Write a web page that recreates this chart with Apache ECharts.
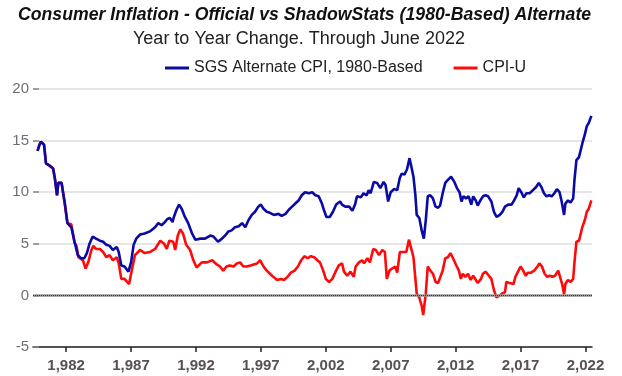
<!DOCTYPE html>
<html>
<head>
<meta charset="utf-8">
<script src="https://cdn.jsdelivr.net/npm/echarts@6/dist/echarts.min.js"></script>
<style>
  html, body { margin: 0; padding: 0; background: #fff; }
  #chart { width: 622px; height: 376px; }
</style>
</head>
<body>
<div id="chart"></div>
<script>
  // SGS Alternate CPI, 1980-Based (year fraction, % yoy)
  const sgsYears = [1979.8, 1979.95, 1980.05, 1980.3, 1980.45, 1980.7, 1981.0, 1981.15, 1981.3, 1981.4, 1981.65, 1981.9,
    1982.1, 1982.4, 1982.65, 1982.9, 1983.15, 1983.4, 1983.6, 1983.8, 1984.05, 1984.3, 1984.6, 1984.85,
    1985.1, 1985.35, 1985.6, 1985.9, 1986.05, 1986.25, 1986.5, 1986.8, 1987.0, 1987.2, 1987.4, 1987.7,
    1988.05, 1988.45, 1988.85, 1989.1, 1989.35, 1989.6, 1989.8, 1990.0, 1990.2, 1990.3, 1990.5, 1990.7,
    1990.9, 1991.15, 1991.4, 1991.7, 1991.95, 1992.35, 1992.7, 1993.1, 1993.35, 1993.7, 1994.0, 1994.25,
    1994.5, 1994.75, 1995.0, 1995.3, 1995.55, 1995.8, 1996.05, 1996.3, 1996.55, 1996.8, 1997.0, 1997.2,
    1997.45, 1997.7, 1998.0, 1998.35, 1998.6, 1998.9, 1999.15, 1999.4, 1999.65, 1999.9, 2000.15, 2000.4,
    2000.7, 2000.95, 2001.2, 2001.45, 2001.7, 2001.9, 2002.05, 2002.3, 2002.55, 2002.8, 2003.1, 2003.25,
    2003.5, 2003.8, 2004.05, 2004.25, 2004.4, 2004.7, 2004.9, 2005.15, 2005.3, 2005.45, 2005.7, 2005.95,
    2006.2, 2006.45, 2006.6, 2006.8, 2007.0, 2007.25, 2007.5, 2007.7, 2007.85, 2008.05, 2008.25, 2008.45,
    2008.6, 2008.75, 2008.9, 2009.0, 2009.2, 2009.4, 2009.55, 2009.7, 2009.85, 2010.05, 2010.25, 2010.45,
    2010.65, 2010.8, 2011.0, 2011.2, 2011.4, 2011.65, 2011.9, 2012.1, 2012.3, 2012.45, 2012.6, 2012.8,
    2013.0, 2013.2, 2013.35, 2013.55, 2013.7, 2013.9, 2014.1, 2014.3, 2014.5, 2014.75, 2014.95, 2015.15,
    2015.4, 2015.6, 2015.8, 2016.05, 2016.3, 2016.5, 2016.7, 2016.85, 2017.05, 2017.25, 2017.45, 2017.7,
    2017.95, 2018.2, 2018.4, 2018.6, 2018.8, 2019.0, 2019.2, 2019.4, 2019.6, 2019.8, 2020.0, 2020.15,
    2020.35, 2020.45, 2020.65, 2020.85, 2021.05, 2021.15, 2021.3, 2021.5, 2021.6, 2021.75, 2021.95, 2022.1,
    2022.25, 2022.45];
  const sgsValues = [14.0, 14.6, 14.9, 14.6, 12.8, 12.6, 12.3, 11.2, 9.7, 10.9, 10.9, 8.9,
    7.0, 6.6, 5.2, 3.9, 3.6, 3.6, 4.1, 5.0, 5.7, 5.5, 5.3, 5.2,
    4.9, 4.8, 4.4, 4.7, 4.2, 2.9, 2.8, 2.3, 3.2, 4.9, 5.5, 5.9,
    6.0, 6.2, 6.6, 7.0, 6.8, 7.1, 7.4, 7.5, 7.1, 7.6, 8.3, 8.8,
    8.4, 7.6, 7.0, 6.0, 5.4, 5.5, 5.5, 5.8, 5.7, 5.2, 5.5, 5.8,
    6.2, 6.3, 6.6, 6.7, 7.0, 6.6, 7.3, 7.8, 8.1, 8.6, 8.8, 8.4,
    8.1, 8.0, 7.8, 7.9, 7.7, 7.9, 8.3, 8.6, 8.9, 9.2, 9.7, 10.0,
    9.9, 10.0, 9.7, 9.6, 8.9, 8.1, 7.6, 7.6, 8.1, 8.8, 9.1, 8.8,
    8.6, 8.6, 8.2, 8.8, 9.6, 9.5, 9.9, 9.7, 10.2, 9.9, 11.0, 10.9,
    10.4, 11.0, 10.7, 9.1, 10.0, 10.3, 10.2, 11.4, 11.8, 11.7, 12.2, 13.3,
    13.2, 11.5, 9.7, 7.8, 7.5, 6.2, 5.5, 7.3, 9.6, 9.7, 9.4, 8.6,
    8.5, 8.7, 9.9, 10.9, 11.2, 11.5, 11.0, 10.4, 10.0, 9.1, 9.6, 9.4,
    9.6, 8.8, 9.6, 9.2, 8.7, 9.2, 9.6, 9.7, 9.6, 9.1, 8.1, 7.6,
    7.8, 8.1, 8.6, 8.8, 8.8, 9.2, 9.7, 10.4, 10.0, 9.5, 9.9, 9.9,
    10.2, 10.5, 10.9, 10.5, 9.9, 9.6, 9.7, 9.6, 9.9, 10.3, 10.0, 9.2,
    7.8, 8.9, 9.2, 9.0, 9.4, 11.2, 13.1, 13.4, 13.3, 14.7, 15.6, 16.4,
    16.7, 17.4];

  // CPI-U
  const cpiYears = [1979.8, 1979.95, 1980.05, 1980.3, 1980.45, 1980.7, 1981.0, 1981.15, 1981.3, 1981.4, 1981.65, 1981.9,
    1982.1, 1982.4, 1982.65, 1982.8, 1982.95, 1983.3, 1983.5, 1983.7, 1983.95, 1984.1, 1984.3, 1984.6,
    1984.85, 1985.1, 1985.35, 1985.6, 1985.9, 1986.05, 1986.25, 1986.5, 1986.85, 1987.05, 1987.3, 1987.7,
    1988.05, 1988.45, 1988.85, 1989.25, 1989.55, 1989.75, 1989.95, 1990.25, 1990.4, 1990.6, 1990.8, 1991.0,
    1991.25, 1991.55, 1991.8, 1992.05, 1992.45, 1992.85, 1993.25, 1993.6, 1993.85, 1994.1, 1994.35, 1994.6,
    1994.9, 1995.15, 1995.4, 1995.65, 1995.9, 1996.2, 1996.45, 1996.7, 1996.95, 1997.2, 1997.45, 1997.7,
    1997.95, 1998.25, 1998.55, 1998.8, 1999.05, 1999.3, 1999.6, 1999.85, 2000.1, 2000.35, 2000.6, 2000.85,
    2001.1, 2001.35, 2001.55, 2001.8, 2002.0, 2002.25, 2002.5, 2002.75, 2003.0, 2003.25, 2003.4, 2003.65,
    2003.9, 2004.15, 2004.3, 2004.55, 2004.8, 2004.95, 2005.2, 2005.4, 2005.65, 2005.85, 2006.1, 2006.35,
    2006.55, 2006.7, 2006.9, 2007.1, 2007.35, 2007.5, 2007.7, 2007.95, 2008.2, 2008.4, 2008.55, 2008.75,
    2008.9, 2009.0, 2009.2, 2009.4, 2009.5, 2009.7, 2009.85, 2010.05, 2010.25, 2010.45, 2010.65, 2010.8,
    2011.0, 2011.2, 2011.4, 2011.6, 2011.8, 2012.05, 2012.25, 2012.4, 2012.55, 2012.75, 2012.95, 2013.15,
    2013.35, 2013.5, 2013.7, 2013.95, 2014.1, 2014.3, 2014.5, 2014.75, 2014.95, 2015.15, 2015.4, 2015.6,
    2015.8, 2015.9, 2016.15, 2016.45, 2016.6, 2016.8, 2017.0, 2017.2, 2017.4, 2017.55, 2017.8, 2018.05,
    2018.3, 2018.45, 2018.65, 2018.85, 2019.05, 2019.25, 2019.45, 2019.65, 2019.9, 2020.05, 2020.2, 2020.35,
    2020.45, 2020.65, 2020.85, 2021.05, 2021.15, 2021.3, 2021.5, 2021.6, 2021.75, 2021.95, 2022.1, 2022.25,
    2022.45];
  const cpiValues = [14.0, 14.6, 14.9, 14.6, 12.8, 12.6, 12.3, 11.2, 9.7, 10.9, 10.9, 8.9,
    7.0, 6.9, 5.1, 4.8, 3.7, 3.4, 2.6, 3.2, 4.4, 4.8, 4.5, 4.5,
    4.2, 3.7, 3.9, 3.4, 3.7, 3.1, 1.6, 1.6, 1.1, 2.4, 3.9, 4.4,
    4.1, 4.2, 4.5, 5.3, 5.0, 4.5, 5.3, 5.2, 4.4, 5.8, 6.4, 6.0,
    4.9, 4.4, 3.4, 2.7, 3.2, 3.2, 3.4, 3.0, 2.8, 2.4, 2.8, 2.9,
    2.8, 3.1, 3.2, 2.8, 2.8, 2.9, 3.0, 3.1, 3.4, 2.8, 2.4, 2.1,
    1.8, 1.5, 1.6, 1.5, 1.8, 2.2, 2.4, 2.8, 3.4, 3.8, 3.6, 3.8,
    3.7, 3.4, 3.2, 2.4, 1.6, 1.3, 1.6, 2.3, 2.9, 3.1, 2.3, 1.9,
    2.3, 1.8, 2.8, 3.2, 3.4, 3.1, 3.6, 3.2, 4.5, 4.4, 3.9, 4.4,
    4.2, 1.6, 2.4, 2.6, 2.8, 2.2, 4.2, 4.2, 4.2, 5.4, 5.3, 3.7,
    1.6, 0.2, -0.2, -1.1, -1.9, 0.2, 2.8, 2.4, 2.1, 1.3, 1.2, 1.3,
    2.4, 3.6, 3.7, 4.1, 3.6, 2.9, 2.4, 1.6, 2.1, 1.8, 2.1, 1.5,
    1.9, 1.8, 1.2, 1.6, 2.1, 2.3, 2.0, 1.6, 0.5, -0.2, 0.0, 0.2,
    0.3, 1.3, 1.2, 1.1, 1.8, 2.3, 2.8, 2.4, 1.9, 2.2, 2.2, 2.4,
    2.8, 3.1, 2.8, 2.1, 1.8, 1.9, 1.8, 1.9, 2.4, 2.3, 1.1, 0.1,
    1.1, 1.5, 1.3, 1.6, 3.2, 5.2, 5.3, 5.3, 6.6, 7.3, 8.1, 8.4,
    9.2];

  const xTickYears = [1982, 1987, 1992, 1997, 2002, 2007, 2012, 2017, 2022];

  const sgsData = sgsYears.map((t, i) => [t, sgsValues[i]]);
  const cpiData = cpiYears.map((t, i) => [t, cpiValues[i]]);

  const chart = echarts.init(document.getElementById('chart'), null, {renderer: 'canvas'});
  chart.setOption({
    animation: false,
    backgroundColor: '#fff',
    title: {
      text: 'Year to Year Change. Through June 2022',
      left: 128,
      top: 25,
      textStyle: {
        fontFamily: '"Liberation Sans", Arial, sans-serif',
        fontWeight: 'normal',
        fontSize: 18,
        color: '#222'
      }
    },
    // condensed bold italic headline (no narrow font installed, so squeeze it)
    graphic: [
      {
        type: 'text',
        x: 18,
        y: 5,
        scaleX: 0.93,
        style: {
          text: 'Consumer Inflation - Official vs ShadowStats (1980-Based) Alternate',
          font: 'italic bold 19px "Liberation Sans", Arial, sans-serif',
          fill: '#111'
        }
      }
    ],
    legend: {
      left: 160,
      top: 55,
      icon: 'rect',
      itemWidth: 24,
      itemHeight: 3,
      itemGap: 31,
      textStyle: {
        fontFamily: '"Liberation Sans", Arial, sans-serif',
        fontSize: 16,
        color: '#222'
      },
      data: ['SGS Alternate CPI, 1980-Based', 'CPI-U']
    },
    grid: {
      left: 33,
      right: 30,
      top: 89,
      bottom: 29,
      containLabel: false
    },
    xAxis: {
      type: 'value',
      min: 1979.45,
      max: 2022.5,
      axisLine: {show: true, onZero: false, lineStyle: {color: '#222', width: 1.5}},
      axisTick: {show: true, length: 5, customValues: xTickYears, lineStyle: {color: '#222', width: 1.5}},
      axisLabel: {
        customValues: xTickYears,
        margin: 11,
        fontFamily: '"Liberation Sans", Arial, sans-serif',
        fontWeight: 'bold',
        fontSize: 15,
        color: '#5a4f55'
      },
      splitLine: {show: false}
    },
    yAxis: {
      type: 'value',
      min: -5,
      max: 20,
      interval: 5,
      axisLine: {show: false},
      axisTick: {show: true, inside: true, length: 6, lineStyle: {color: '#888', width: 1.5}},
      axisLabel: {
        margin: 4,
        fontFamily: '"Liberation Sans", Arial, sans-serif',
        fontSize: 15,
        color: '#6e6e78'
      },
      splitLine: {show: true, lineStyle: {color: '#dedede', width: 1.5}}
    },
    series: [
      {
        name: 'SGS Alternate CPI, 1980-Based',
        type: 'line',
        data: sgsData,
        showSymbol: false,
        z: 4,
        itemStyle: {color: '#0a0aa5'},
        lineStyle: {color: '#0a0aa5', width: 2.6}
      },
      {
        name: 'CPI-U',
        type: 'line',
        data: cpiData,
        showSymbol: false,
        z: 3,
        itemStyle: {color: '#ff0a0a'},
        lineStyle: {color: '#ff0a0a', width: 2.6},
        markLine: {
          silent: true,
          symbol: 'none',
          label: {show: false},
          data: [
            {yAxis: 0, lineStyle: {color: '#9a9a9a', type: 'solid', width: 2.5}},
            {yAxis: 0, lineStyle: {color: '#333', type: [1, 1], width: 1.2}}
          ]
        }
      }
    ]
  });
</script>
</body>
</html>
